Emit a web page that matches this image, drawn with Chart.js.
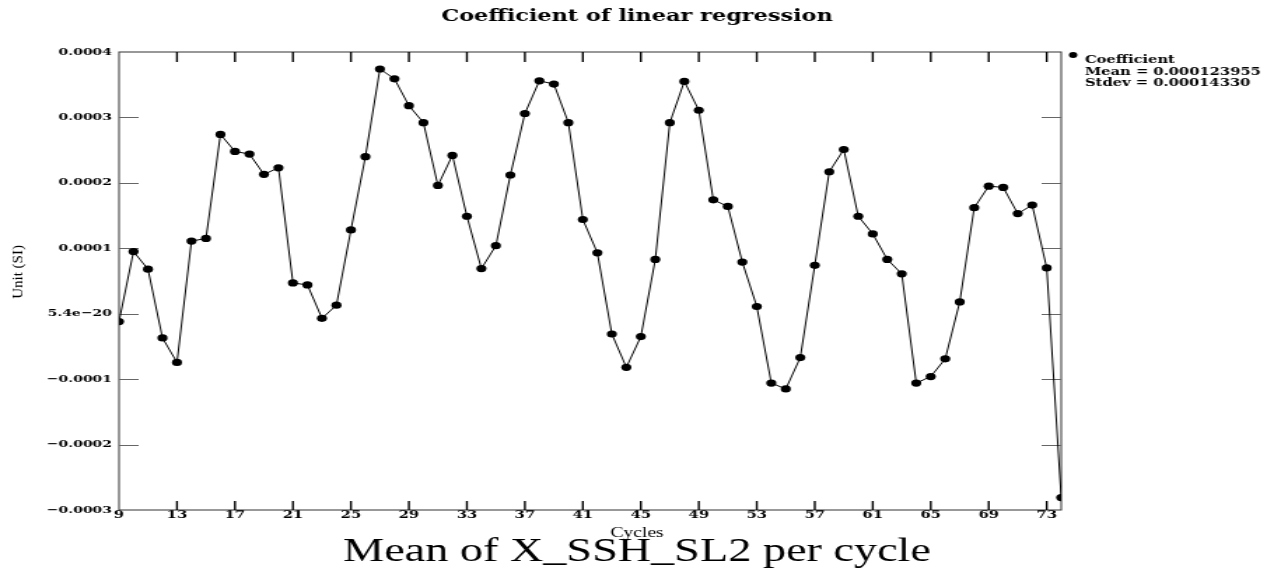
<!DOCTYPE html>
<html>
<head>
<meta charset="utf-8">
<script src="https://cdn.jsdelivr.net/npm/chart.js@4"></script>
<style>
  body { margin: 0; background: #fff; }
</style>
</head>
<body>
<!-- the original picture is stretched sideways, so the canvas is drawn narrow and widened by css -->
<canvas id="chart" width="910" height="569" style="display:block;width:1274px;height:569px"></canvas>
<script>
var cycles = [9, 10, 11, 12, 13, 14, 15, 16, 17, 18, 19, 20, 21, 22, 23, 24, 25, 26, 27, 28, 29,
  30, 31, 32, 33, 34, 35, 36, 37, 38, 39, 40, 41, 42, 43, 44, 45, 46, 47, 48, 49, 50, 51, 52,
  53, 54, 55, 56, 57, 58, 59, 60, 61, 62, 63, 64, 65, 66, 67, 68, 69, 70, 71, 72, 73, 74];

var coefficient = [
  -0.000012, 0.000095, 0.000068, -0.000037, -0.0000745, 0.000111, 0.000115, 0.000274,
  0.000248, 0.000244, 0.000213, 0.000223, 0.000047, 0.000044, -0.000007, 0.000013,
  0.000128, 0.000240, 0.000374, 0.000359, 0.000318, 0.000292, 0.000196, 0.000242,
  0.000149, 0.000069, 0.000104, 0.000212, 0.000306, 0.000356, 0.000351, 0.000292,
  0.000144, 0.000093, -0.000031, -0.000082, -0.000035, 0.000083, 0.000292, 0.000355,
  0.000311, 0.000174, 0.000164, 0.000079, 0.000011, -0.000106, -0.000115, -0.000067,
  0.000074, 0.000217, 0.000251, 0.000149, 0.000122, 0.000083, 0.000061, -0.000106,
  -0.000096, -0.000069, 0.000018, 0.000162, 0.000195, 0.000193, 0.000153, 0.000166,
  0.000070, -0.000281
];

var xTicks = [9, 13, 17, 21, 25, 29, 33, 37, 41, 45, 49, 53, 57, 61, 65, 69, 73];
var yTicks = [-0.0003, -0.0002, -0.0001, 0, 0.0001, 0.0002, 0.0003, 0.0004];
var yTickLabels = ['\u22120.0003', '\u22120.0002', '\u22120.0001', '5.4e\u221220',
  '0.0001', '0.0002', '0.0003', '0.0004'];

var legendLines = ['Coefficient', 'Mean = 0.000123955', 'Stdev = 0.00014330'];

var STRETCH = 1274 / 910;

// frame, inward ticks, legend and the small axis names
var decor = {
  id: 'decor',
  beforeDatasetsDraw: function (chart) {
    var ctx = chart.ctx;
    var a = chart.chartArea;
    var xs = chart.scales.x, ys = chart.scales.y;
    ctx.save();
    ctx.strokeStyle = '#333';
    ctx.lineWidth = 1;
    ctx.strokeRect(a.left, a.top, a.right - a.left, a.bottom - a.top);

    ctx.strokeStyle = '#666';
    yTicks.forEach(function (v) {
      if (v <= ys.min || v >= ys.max) return;
      var y = Math.round(ys.getPixelForValue(v)) + 0.5;
      ctx.beginPath();
      ctx.moveTo(a.left, y); ctx.lineTo(a.left + 14, y);
      ctx.moveTo(a.right, y); ctx.lineTo(a.right - 14, y);
      ctx.stroke();
    });

    ctx.strokeStyle = '#000';
    ctx.lineWidth = 1.4;
    xTicks.forEach(function (v) {
      if (v <= xs.min || v >= xs.max) return;
      var x = xs.getPixelForValue(v);
      ctx.beginPath();
      ctx.moveTo(x, a.bottom); ctx.lineTo(x, a.bottom - 9);
      ctx.moveTo(x, a.top); ctx.lineTo(x, a.top + 10);
      ctx.stroke();
    });
    ctx.restore();
  },
  afterDraw: function (chart) {
    var ctx = chart.ctx;
    var a = chart.chartArea;
    ctx.save();
    ctx.fillStyle = '#000';

    // legend
    ctx.beginPath();
    ctx.arc(a.right + 8.5, 55, 3, 0, Math.PI * 2);
    ctx.fill();
    ctx.font = 'bold 10.5px "DejaVu Serif"';
    ctx.textAlign = 'left';
    ctx.textBaseline = 'alphabetic';
    legendLines.forEach(function (t, i) {
      ctx.fillText(t, a.right + 17, 63 + i * 11.5);
    });

    // x axis name, centred on the page
    ctx.font = '14px "Liberation Serif"';
    ctx.textAlign = 'center';
    ctx.textBaseline = 'middle';
    ctx.fillText('Cycles', chart.width / 2, 533);

    // y axis name, not stretched in the original
    ctx.translate(13, 272);
    ctx.scale(1 / STRETCH, 1);
    ctx.rotate(-Math.PI / 2);
    ctx.font = '15px "Liberation Serif"';
    ctx.fillText('Unit (SI)', 0, 0);
    ctx.restore();
  }
};

Chart.defaults.color = '#000';

new Chart(document.getElementById('chart'), {
  type: 'line',
  data: {
    datasets: [{
      label: 'Coefficient',
      data: cycles.map(function (c, i) { return { x: c, y: coefficient[i] }; }),
      borderColor: '#000',
      borderWidth: 1,
      backgroundColor: '#000',
      pointRadius: 3.6,
      pointHoverRadius: 3.6,
      pointBorderWidth: 0,
      tension: 0,
      clip: 0
    }]
  },
  options: {
    responsive: false,
    devicePixelRatio: 1,
    animation: false,
    events: [],
    layout: { padding: 0 },
    plugins: {
      legend: { display: false },
      tooltip: { enabled: false },
      title: {
        display: true,
        text: 'Coefficient of linear regression',
        font: { family: 'DejaVu Serif', size: 16, weight: 'bold', lineHeight: 1 },
        padding: { top: 9, bottom: 27 }
      },
      subtitle: {
        display: true,
        position: 'bottom',
        text: 'Mean of X_SSH_SL2 per cycle',
        font: { family: 'Liberation Serif', size: 33, weight: 'normal', lineHeight: 1 },
        padding: { top: 4, bottom: 0 }
      }
    },
    scales: {
      x: {
        type: 'linear',
        min: 9,
        max: 74,
        grid: { display: false, drawTicks: false },
        border: { display: false },
        afterBuildTicks: function (s) { s.ticks = xTicks.map(function (v) { return { value: v }; }); },
        afterFit: function (s) { s.height = 22; },
        ticks: {
          autoSkip: false,
          maxRotation: 0,
          padding: 0,
          font: { family: 'DejaVu Serif', size: 10.5, weight: 'bold', lineHeight: 1 },
          callback: function (v) { return String(v); }
        }
      },
      y: {
        type: 'linear',
        min: -0.0003,
        max: 0.0004,
        grid: { display: false, drawTicks: false },
        border: { display: false },
        afterBuildTicks: function (s) { s.ticks = yTicks.map(function (v) { return { value: v }; }); },
        afterFit: function (s) { s.width = 85; },
        ticks: {
          padding: 5,
          font: { family: 'DejaVu Serif', size: 10, weight: 'bold' },
          callback: function (v, i) { return yTickLabels[i]; }
        }
      },
      // empty axis that only holds the room for the legend on the right
      y2: {
        type: 'linear',
        position: 'right',
        grid: { display: false, drawTicks: false },
        border: { display: false },
        ticks: { display: false },
        afterFit: function (s) { s.width = 152; }
      }
    }
  },
  plugins: [decor]
});
</script>
</body>
</html>
